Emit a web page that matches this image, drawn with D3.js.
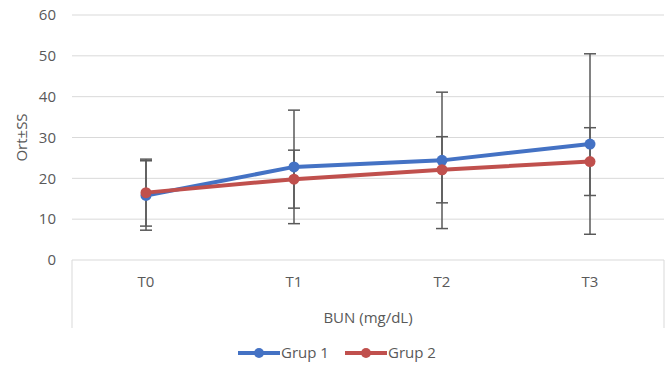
<!DOCTYPE html>
<html>
<head>
<meta charset="utf-8">
<script src="https://cdn.jsdelivr.net/npm/d3@7"></script>
<style>
  body { margin: 0; background: #fff; }
  text { font-family: "Open Sans", "Noto Sans", sans-serif; fill: #595959; }
</style>
</head>
<body>
<script>
// data
const categories = ["T0", "T1", "T2", "T3"];
const group1Mean = [15.8, 22.8, 24.4, 28.4];
const group1SD = [8.5, 13.9, 16.7, 22.1];
const group2Mean = [16.5, 19.8, 22.1, 24.1];
const group2SD = [8.2, 7.1, 8.1, 8.3];
const yTicks = [0, 10, 20, 30, 40, 50, 60];
const seriesNames = ["Grup 1", "Grup 2"];

const canvWidth = 668, canvHeight = 366;
const svg = d3.select("body").append("svg")
    .attr("width", canvWidth)
    .attr("height", canvHeight);

const margin = {top: 15, right: 4, bottom: 106, left: 72};
const width = canvWidth - margin.left - margin.right;
const height = canvHeight - margin.top - margin.bottom;

const x = d3.scaleBand().domain(categories).range([0, width]);
const y = d3.scaleLinear().domain([0, 60]).range([height, 0]);

const g = svg.append("g")
    .attr("transform", "translate(" + margin.left + "," + margin.top + ")");

// gridlines
g.selectAll(".grid")
    .data(yTicks.filter(d => d > 0))
    .enter().append("line")
    .attr("x1", 0).attr("x2", width)
    .attr("y1", d => y(d)).attr("y2", d => y(d))
    .attr("stroke", "#d9d9d9").attr("stroke-width", 1);

// y tick labels
g.selectAll(".ytick")
    .data(yTicks)
    .enter().append("text")
    .attr("x", -16)
    .attr("y", d => y(d))
    .attr("dy", "0.35em")
    .attr("text-anchor", "end")
    .attr("font-size", "15px")
    .text(d => d);

// category box
g.append("path")
    .attr("d", "M0," + (height + 68) + "V" + height + "H" + width + "V" + (height + 68))
    .attr("fill", "none")
    .attr("stroke", "#d9d9d9");

g.selectAll(".xtick")
    .data(categories)
    .enter().append("text")
    .attr("x", d => x(d) + x.bandwidth() / 2)
    .attr("y", height + 27)
    .attr("text-anchor", "middle")
    .attr("font-size", "15px")
    .text(d => d);

g.append("text")
    .attr("x", width / 2)
    .attr("y", height + 63)
    .attr("text-anchor", "middle")
    .attr("font-size", "15px")
    .text("BUN (mg/dL)");

svg.append("text")
    .attr("transform", "translate(27," + (margin.top + y(30)) + ") rotate(-90)")
    .attr("text-anchor", "middle")
    .attr("font-size", "15px")
    .text("Ort±SS");

const series = [
  {name: seriesNames[0], mean: group1Mean, sd: group1SD, color: "#4472C4"},
  {name: seriesNames[1], mean: group2Mean, sd: group2SD, color: "#C0504D"}
];
const cx = i => x(categories[i]) + x.bandwidth() / 2;

const line = d3.line()
    .x((d, i) => cx(i))
    .y(d => y(d));

series.forEach(s => {
  g.append("path")
    .datum(s.mean)
    .attr("d", line)
    .attr("fill", "none")
    .attr("stroke", s.color)
    .attr("stroke-width", 4)
    .attr("stroke-linejoin", "round");
});

// error bars
series.forEach(s => {
  const eb = g.append("g").attr("stroke", "#595959").attr("stroke-width", 1.5);
  s.mean.forEach((m, i) => {
    const lo = y(m - s.sd[i]), hi = y(m + s.sd[i]);
    eb.append("line").attr("x1", cx(i)).attr("x2", cx(i)).attr("y1", lo).attr("y2", hi);
    eb.append("line").attr("x1", cx(i) - 6).attr("x2", cx(i) + 6).attr("y1", lo).attr("y2", lo);
    eb.append("line").attr("x1", cx(i) - 6).attr("x2", cx(i) + 6).attr("y1", hi).attr("y2", hi);
  });
});

series.forEach(s => {
  g.selectAll(null)
    .data(s.mean)
    .enter().append("circle")
    .attr("cx", (d, i) => cx(i))
    .attr("cy", d => y(d))
    .attr("r", 5.5)
    .attr("fill", s.color);
});

// legend
const legend = svg.append("g").attr("transform", "translate(238,353)");
series.forEach((s, i) => {
  const lg = legend.append("g").attr("transform", "translate(" + (i * 107) + ",0)");
  lg.append("line").attr("x1", 0).attr("x2", 42).attr("y1", 0).attr("y2", 0)
    .attr("stroke", s.color).attr("stroke-width", 4);
  lg.append("circle").attr("cx", 21).attr("cy", 0).attr("r", 5).attr("fill", s.color);
  lg.append("text").attr("x", 43).attr("y", 0).attr("dy", "0.35em")
    .attr("font-size", "15px").text(s.name);
});
</script>
</body>
</html>
